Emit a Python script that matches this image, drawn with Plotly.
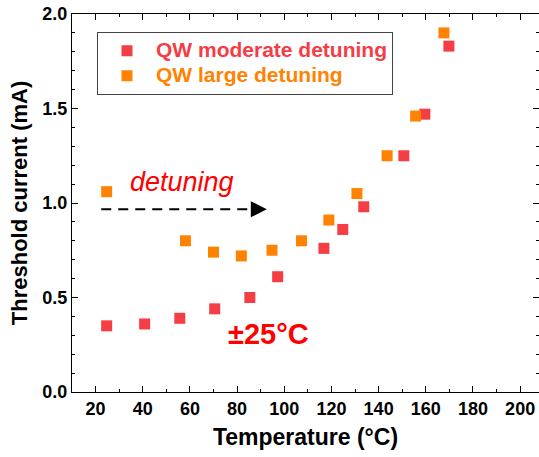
import plotly.graph_objects as go

# ---- data ----
temp_moderate = [24.7, 40.8, 55.7, 70.5, 85.4, 97.2, 116.8, 124.8, 133.7, 150.7, 159.6, 169.8]
ith_moderate = [0.35, 0.36, 0.39, 0.44, 0.50, 0.61, 0.76, 0.86, 0.98, 1.25, 1.47, 1.83]

temp_large = [24.7, 58.1, 70.0, 81.8, 94.8, 107.3, 118.9, 130.8, 143.6, 155.7, 167.7]
ith_large = [1.06, 0.80, 0.74, 0.72, 0.75, 0.80, 0.91, 1.05, 1.25, 1.46, 1.90]

series_names = ["QW moderate detuning", "QW large detuning"]
x_ticks = [20, 40, 60, 80, 100, 120, 140, 160, 180, 200]
y_ticks = [0.0, 0.5, 1.0, 1.5, 2.0]

RED = "#F53D45"
ORANGE = "#FF8200"
FONT = "Liberation Sans, Arial, sans-serif"

fig = go.Figure()
fig.add_trace(go.Scatter(
    x=temp_moderate, y=ith_moderate, mode="markers",
    name=f"<span style='color:{RED};font-size:21px'>{series_names[0]}</span>",
    marker=dict(symbol="square", size=11, color=RED),
))
fig.add_trace(go.Scatter(
    x=temp_large, y=ith_large, mode="markers",
    name=f"<span style='color:{ORANGE};font-size:21px'>{series_names[1]}</span>",
    marker=dict(symbol="square", size=11, color=ORANGE),
))

# dashed "detuning" arrow
arrow_y = 0.967
arrow_x0, arrow_x1 = 22.4, 92.6
fig.add_shape(type="line", xref="x", yref="y", x0=arrow_x0, x1=arrow_x1 - 5, y0=arrow_y, y1=arrow_y,
              line=dict(color="black", width=2, dash="10px,7px"))
fig.add_annotation(x=arrow_x1, y=arrow_y, xref="x", yref="y", ax=-12, ay=0, text="",
                   showarrow=True, arrowhead=2, arrowsize=1.6, arrowwidth=2, arrowcolor="black")
fig.add_annotation(x=56.5, y=1.111, xref="x", yref="y", text="<i>detuning</i>", showarrow=False,
                   font=dict(family=FONT, size=27, color="#FF0000"))
fig.add_annotation(x=93.4, y=0.307, xref="x", yref="y", text="<b>±25°C</b>", showarrow=False,
                   font=dict(family=FONT, size=29, color="#FF0000"))

axis_common = dict(
    showline=True, linecolor="black", linewidth=1.3, mirror="ticks",
    ticks="inside", ticklen=6, tickwidth=1, tickcolor="black",
    showgrid=False, zeroline=False,
    tickfont=dict(family=FONT, size=18, color="black", weight="bold"),
)

fig.update_xaxes(
    range=[10, 208], tickvals=x_ticks,
    minor=dict(dtick=10, ticks="inside", ticklen=3, tickcolor="black", showgrid=False),
    title=dict(text="<b>Temperature (°C)</b>", font=dict(family=FONT, size=23, color="black"), standoff=11),
    **axis_common,
)
fig.update_yaxes(
    range=[0, 2.0], tickvals=y_ticks, tickformat=".1f",
    minor=dict(dtick=0.1, ticks="inside", ticklen=3, tickcolor="black", showgrid=False),
    title=dict(text="<b>Threshold current (mA)</b>", font=dict(family=FONT, size=22, color="black"), standoff=8),
    **axis_common,
)

fig.update_layout(
    width=539, height=457,
    margin=dict(l=72, r=0, t=14, b=65),
    plot_bgcolor="white", paper_bgcolor="white",
    showlegend=True,
    legend=dict(
        x=0.0535, y=0.952, xanchor="left", yanchor="top",
        bordercolor="#444", borderwidth=1, bgcolor="white",
        font=dict(family=FONT, size=17, weight="bold"),
        itemwidth=48, tracegroupgap=0,
    ),
)

fig.write_html("out.html")
